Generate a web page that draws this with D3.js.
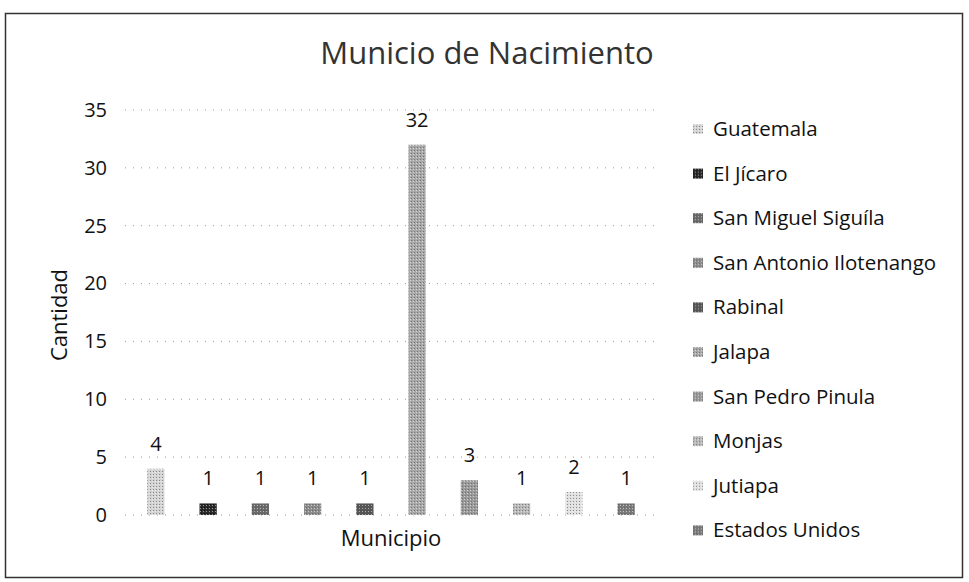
<!DOCTYPE html>
<html><head><meta charset="utf-8">
<script src="https://cdn.jsdelivr.net/npm/d3@7"></script>
<style>body{margin:0;background:#fff}text{font-family:"Open Sans",Lato,sans-serif}</style>
</head><body><svg id="c" width="969" height="582"></svg>
<script>
const categories = ["Guatemala","El Jícaro","San Miguel Siguíla","San Antonio Ilotenango","Rabinal","Jalapa","San Pedro Pinula","Monjas","Jutiapa","Estados Unidos"];
const values = [4,1,1,1,1,32,3,1,2,1];
const yTicks = [0,5,10,15,20,25,30,35];
const fills = ["#d4d4d4","#2a2a2a","#6a6a6a","#8c8c8c","#555555","#a8a8a8","#9a9a9a","#b8b8b8","#e0e0e0","#7a7a7a"];

const svg = d3.select("#c");
const defs = svg.append("defs");
fills.forEach((f,i)=>{
  const p = defs.append("pattern").attr("id","p"+i).attr("width",3).attr("height",3).attr("patternUnits","userSpaceOnUse");
  p.append("rect").attr("width",3).attr("height",3).attr("fill",f);
  p.append("rect").attr("x",0).attr("y",0).attr("width",1).attr("height",1).attr("fill", i===1?"#000":"#555").attr("opacity",0.6);
  p.append("rect").attr("x",2).attr("y",1).attr("width",1).attr("height",1).attr("fill","#fff").attr("opacity",0.5);
});

svg.append("rect").attr("x",5.5).attr("y",13.5).attr("width",957).attr("height",564).attr("fill","none").attr("stroke","#333").attr("stroke-width",1.5);

const x = d3.scaleBand().domain(categories).range([130,652]).paddingInner(0.67).paddingOuter(0.33);
const y = d3.scaleLinear().domain([0,35]).range([515,110]);

// gridlines
svg.append("g").selectAll("line").data(yTicks).join("line")
  .attr("x1",125).attr("x2",655).attr("y1",d=>y(d)).attr("y2",d=>y(d))
  .attr("stroke","#999").attr("stroke-dasharray","1,7").attr("stroke-width",1);

// y axis labels
const yAxis = d3.axisLeft(y).tickValues(yTicks).tickSize(0).tickPadding(0);
const ga = svg.append("g").attr("transform","translate(107,0)").call(yAxis);
ga.select(".domain").remove();
ga.selectAll("text").attr("font-size",20).attr("fill","#111").attr("font-family","'Open Sans',sans-serif");

// bars
svg.append("g").selectAll("rect").data(categories).join("rect")
  .attr("x",d=>x(d)).attr("width",x.bandwidth())
  .attr("y",(d,i)=>y(values[i])).attr("height",(d,i)=>y(0)-y(values[i]))
  .attr("fill",(d,i)=>"url(#p"+i+")");

// labels
svg.append("g").selectAll("text").data(categories).join("text")
  .attr("x",d=>x(d)+x.bandwidth()/2).attr("y",(d,i)=>y(values[i])-18)
  .attr("text-anchor","middle").attr("font-size",20).attr("fill","#111")
  .text((d,i)=>values[i]);

// title
svg.append("text").attr("x",487).attr("y",64).attr("text-anchor","middle").attr("font-size",31).attr("fill","#333").text("Municio de Nacimiento");
svg.append("text").attr("transform","translate(67,315) rotate(-90)").attr("text-anchor","middle").attr("font-size",22).attr("fill","#111").text("Cantidad");
svg.append("text").attr("x",391).attr("y",546).attr("text-anchor","middle").attr("font-size",22).attr("fill","#111").text("Municipio");

// legend
const lg = svg.append("g").selectAll("g").data(categories).join("g")
  .attr("transform",(d,i)=>`translate(693,${129+i*44.6})`);
lg.append("rect").attr("x",0).attr("y",-5).attr("width",10).attr("height",10).attr("fill",(d,i)=>"url(#p"+i+")");
lg.append("text").attr("x",20).attr("y",7).attr("font-size",20.5).attr("fill","#111").text(d=>d);
</script></body></html>
